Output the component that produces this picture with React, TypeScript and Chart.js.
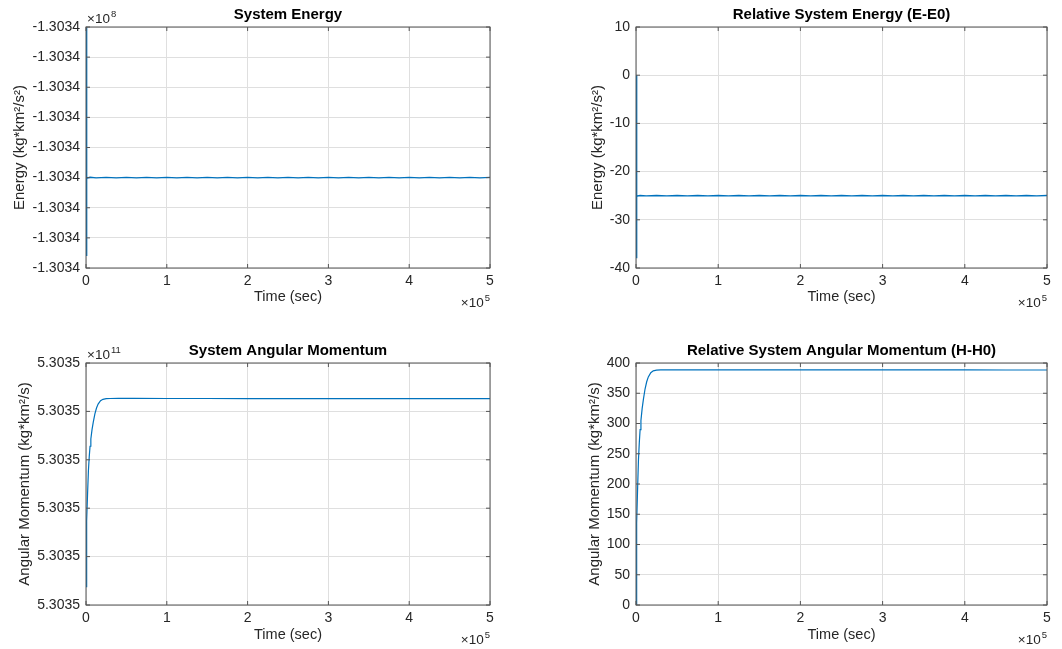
import React, { useEffect, useRef } from 'react';
import { Chart, registerables } from 'chart.js';

Chart.register(...registerables);

// ---------- data ----------
const xTickValues = [0, 100000, 200000, 300000, 400000, 500000];
const xTickLabels = ['0', '1', '2', '3', '4', '5'];

const energyTime = [
  0, 400, 800, 1200, 2000, 5000, 12500, 25000, 37500, 50000, 62500, 75000, 87500,
  100000, 112500, 125000, 137500, 150000, 162500, 175000, 187500, 200000, 212500,
  225000, 237500, 250000, 262500, 275000, 287500, 300000, 312500, 325000, 337500,
  350000, 362500, 375000, 387500, 400000, 412500, 425000, 437500, 450000, 462500,
  475000, 487500, 500000,
];
// relative energy E - E0
const energyRel = [
  0, -38, -25.2, -24.9, -25.05, -24.95, -25.04, -24.96, -25.04, -24.96, -25.04, -24.96, -25.04,
  -24.96, -25.04, -24.96, -25.04, -24.96, -25.04, -24.96, -25.04, -24.96, -25.04,
  -24.96, -25.04, -24.96, -25.04, -24.96, -25.04, -24.96, -25.04, -24.96, -25.04,
  -24.96, -25.04, -24.96, -25.04, -24.96, -25.04, -24.96, -25.04, -24.96, -25.04,
  -24.96, -25.04, -24.96,
];
const energyE0 = -130340000;
const energyAbsTickLabels = ['-1.3034', '-1.3034', '-1.3034', '-1.3034', '-1.3034', '-1.3034', '-1.3034', '-1.3034', '-1.3034'];
const energyRelTickLabels = ['-40', '-30', '-20', '-10', '0', '10'];

const momentumTime = [
  0, 400, 800, 1200, 2000, 3000, 4000, 5000, 6000, 7500, 9000, 11000, 13000, 15000,
  18000, 21000, 25000, 30000, 40000, 60000, 100000, 150000, 200000, 250000, 300000,
  350000, 400000, 450000, 500000,
];
// relative angular momentum H - H0
const momentumRel = [
  0, 55, 100, 135, 195, 240, 268, 290, 305, 325, 340, 357, 369, 377,
  384, 387, 388.3, 388.7, 388.8, 388.8, 388.7, 388.7, 388.6, 388.6, 388.5,
  388.5, 388.5, 388.4, 388.4,
];
const momentumAxisBase = 530350000000; // bottom of absolute axis
const momentumH0 = 530350000038; // initial absolute momentum
const momentumAbsTickLabels = ['5.3035', '5.3035', '5.3035', '5.3035', '5.3035', '5.3035'];
const momentumRelTickLabels = ['0', '50', '100', '150', '200', '250', '300', '350', '400'];

// ---------- styling ----------
const FONT = '"Liberation Sans", Arial, Helvetica, sans-serif';
const TEXT = '#262626';
const BOX = '#555555';
const GRID = '#dfdfdf';
const LINE = '#0072BD';

Chart.defaults.font.family = FONT;

const decorPlugin = {
  id: 'decor',
  afterDraw(chart: any, _args: any, opts: any) {
    const { ctx, chartArea } = chart;
    const { left, top, right, bottom } = chartArea;
    const xs = chart.scales.x;
    const ys = chart.scales.y;
    ctx.save();
    ctx.strokeStyle = BOX;
    ctx.lineWidth = 1;
    ctx.strokeRect(left, top, right - left, bottom - top);
    ctx.beginPath();
    xs.ticks.forEach((t: any) => {
      const px = xs.getPixelForValue(t.value);
      ctx.moveTo(px, bottom);
      ctx.lineTo(px, bottom - 4);
      ctx.moveTo(px, top);
      ctx.lineTo(px, top + 4);
    });
    ys.ticks.forEach((t: any) => {
      const py = ys.getPixelForValue(t.value);
      ctx.moveTo(left, py);
      ctx.lineTo(left + 4, py);
      ctx.moveTo(right, py);
      ctx.lineTo(right - 4, py);
    });
    ctx.stroke();
    ctx.fillStyle = '#000';
    ctx.font = `bold 15px ${FONT}`;
    ctx.textAlign = 'center';
    ctx.textBaseline = 'alphabetic';
    ctx.fillText(opts.title, (left + right) / 2, top - 8);
    const drawExp = (x: number, y: number, exp: string, align: 'left' | 'right') => {
      ctx.fillStyle = TEXT;
      ctx.textAlign = 'left';
      ctx.font = `13.5px ${FONT}`;
      const base = '\u00d710';
      const bw = ctx.measureText(base).width;
      ctx.font = `9.5px ${FONT}`;
      const ew = ctx.measureText(exp).width;
      const x0 = align === 'left' ? x : x - bw - ew - 1;
      ctx.font = `13.5px ${FONT}`;
      ctx.fillText(base, x0, y);
      ctx.font = `9.5px ${FONT}`;
      ctx.fillText(exp, x0 + bw + 1, y - 6);
    };
    if (opts.yExp) drawExp(left + 1, top - 4.5, opts.yExp, 'left');
    drawExp(right, bottom + 39, '5', 'right');
    ctx.restore();
  },
};

type Panel = {
  rect: [number, number, number, number];
  plot: [number, number, number, number];
  title: string;
  yLabel: string;
  yExp?: string;
  yMin: number;
  yMax: number;
  yStep: number;
  yTickLabels: string[];
  xs: number[];
  ys: number[];
  yTitlePad: number;
  xTitlePad: number;
  lineWidth: number;
};

const panels: Panel[] = [
  {
    rect: [0, 0, 531, 320],
    plot: [86, 27, 490, 268],
    title: 'System Energy',
    yLabel: 'Energy (kg*km\u00b2/s\u00b2)',
    yExp: '8',
    yMin: energyE0 - 40,
    yMax: energyE0,
    yStep: 5,
    yTickLabels: energyAbsTickLabels,
    xs: energyTime,
    ys: energyRel.map((v) => energyE0 + v),
    yTitlePad: 11,
    xTitlePad: 14,
    lineWidth: 1.4,
  },
  {
    rect: [531, 0, 531, 320],
    plot: [636, 27, 1047, 268],
    title: 'Relative System Energy (E-E0)',
    yLabel: 'Energy (kg*km\u00b2/s\u00b2)',
    yMin: -40,
    yMax: 10,
    yStep: 10,
    yTickLabels: energyRelTickLabels,
    xs: energyTime,
    ys: energyRel,
    yTitlePad: 58,
    xTitlePad: 14,
    lineWidth: 1.4,
  },
  {
    rect: [0, 320, 531, 329],
    plot: [86, 363, 490, 605],
    title: 'System Angular Momentum',
    yLabel: 'Angular Momentum (kg*km\u00b2/s)',
    yExp: '11',
    yMin: momentumAxisBase,
    yMax: momentumAxisBase + 500,
    yStep: 100,
    yTickLabels: momentumAbsTickLabels,
    xs: momentumTime,
    ys: momentumRel.map((v) => momentumH0 + v),
    yTitlePad: 16,
    xTitlePad: 5,
    lineWidth: 1.2,
  },
  {
    rect: [531, 320, 531, 329],
    plot: [636, 363, 1047, 605],
    title: 'Relative System Angular Momentum (H-H0)',
    yLabel: 'Angular Momentum (kg*km\u00b2/s)',
    yMin: 0,
    yMax: 400,
    yStep: 50,
    yTickLabels: momentumRelTickLabels,
    xs: momentumTime,
    ys: momentumRel,
    yTitlePad: 55,
    xTitlePad: 5,
    lineWidth: 1.2,
  },
];

function SubPlot({ p }: { p: Panel }) {
  const ref = useRef<HTMLCanvasElement | null>(null);
  useEffect(() => {
    if (!ref.current) return;
    const [cl, ct, cw, ch] = p.rect;
    const [pl, pt, pr, pb] = p.plot;
    const yWidth = pl - cl;
    const xHeight = ct + ch - pb;
    const chart = new Chart(ref.current, {
      type: 'line',
      data: {
        datasets: [
          {
            data: p.xs.map((x, i) => ({ x, y: p.ys[i] })),
            borderColor: LINE,
            borderWidth: p.lineWidth,
            pointRadius: 0,
            tension: 0,
            fill: false,
          },
        ],
      },
      options: {
        animation: false,
        responsive: false,
        devicePixelRatio: 1,
        layout: { padding: { left: 0, top: pt - ct, right: cl + cw - pr, bottom: 0 } },
        plugins: {
          legend: { display: false },
          tooltip: { enabled: false },
          decor: { title: p.title, yExp: p.yExp },
        } as any,
        scales: {
          x: {
            type: 'linear',
            min: 0,
            max: 500000,
            afterBuildTicks: (s: any) => {
              s.ticks = xTickValues.map((v) => ({ value: v }));
            },
            ticks: {
              color: TEXT,
              font: { size: 14 },
              padding: 5,
              maxRotation: 0,
              autoSkip: false,
              callback: (_v: any, i: number) => xTickLabels[i],
            },
            grid: { color: GRID, drawTicks: false, lineWidth: 1 },
            border: { display: false },
            title: {
              display: true,
              text: 'Time (sec)',
              color: TEXT,
              font: { size: 14.5 },
              padding: { top: 0, bottom: p.xTitlePad },
            },
            afterFit: (s: any) => {
              s.height = xHeight;
            },
          },
          y: {
            type: 'linear',
            min: p.yMin,
            max: p.yMax,
            ticks: {
              stepSize: p.yStep,
              color: TEXT,
              font: { size: 14 },
              padding: 6,
              autoSkip: false,
              callback: (_v: any, i: number) => p.yTickLabels[i],
            },
            grid: { color: GRID, drawTicks: false, lineWidth: 1 },
            border: { display: false },
            title: {
              display: true,
              text: p.yLabel,
              color: TEXT,
              font: { size: 15 },
              padding: { top: p.yTitlePad, bottom: 0 },
            },
            afterFit: (s: any) => {
              s.width = yWidth;
            },
          },
        },
      },
      plugins: [decorPlugin],
    } as any);
    return () => chart.destroy();
  }, [p]);
  const [cl, ct, cw, ch] = p.rect;
  return (
    <canvas
      ref={ref}
      width={cw}
      height={ch}
      style={{ position: 'absolute', left: cl, top: ct, width: cw, height: ch }}
    />
  );
}

export default function App() {
  return (
    <div
      style={{
        position: 'absolute',
        left: 0,
        top: 0,
        width: 1062,
        height: 649,
        background: '#ffffff',
        overflow: 'hidden',
      }}
    >
      {panels.map((p, i) => (
        <SubPlot key={i} p={p} />
      ))}
    </div>
  );
}
